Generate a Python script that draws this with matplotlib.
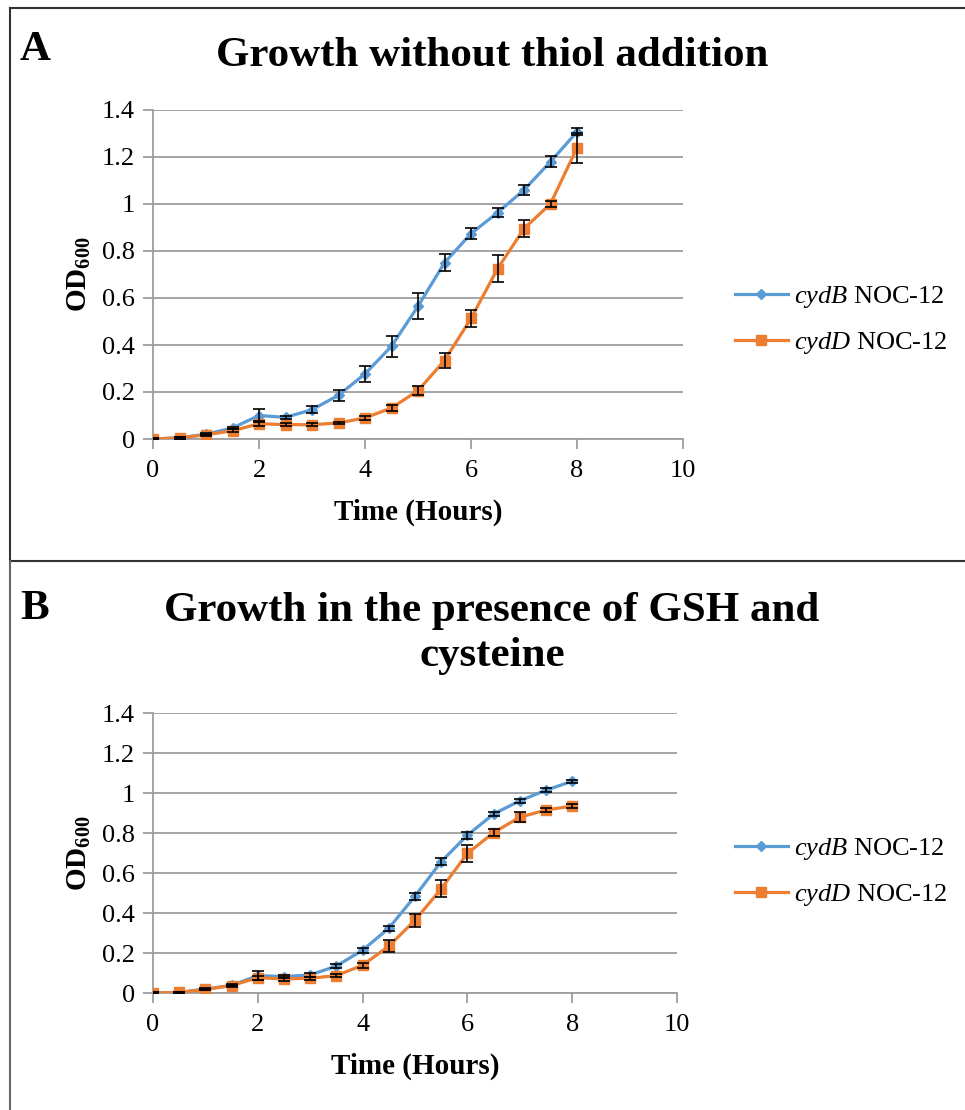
import matplotlib
matplotlib.use("Agg")
import matplotlib.pyplot as plt
from matplotlib.lines import Line2D
from matplotlib.ticker import FuncFormatter

plt.rcParams['font.family'] = ['Liberation Serif', 'DejaVu Serif']
plt.rcParams['mathtext.fontset'] = 'custom'
plt.rcParams['mathtext.rm'] = 'Liberation Serif'
plt.rcParams['mathtext.it'] = 'Liberation Serif:italic'
plt.rcParams['mathtext.bf'] = 'Liberation Serif:bold'

# ---------------- data ----------------
time_h = [0, 0.5, 1, 1.5, 2, 2.5, 3, 3.5, 4, 4.5, 5, 5.5, 6, 6.5, 7, 7.5, 8]

cydB_A = [0, 0.005, 0.02, 0.047, 0.10, 0.092, 0.125, 0.186, 0.277, 0.395,
          0.565, 0.75, 0.874, 0.963, 1.06, 1.18, 1.307]
cydB_A_err = [0.003, 0.003, 0.005, 0.006, 0.028, 0.008, 0.014, 0.023, 0.035, 0.045,
              0.056, 0.036, 0.025, 0.02, 0.021, 0.024, 0.015]
cydD_A = [0, 0.005, 0.018, 0.035, 0.065, 0.061, 0.061, 0.068, 0.09, 0.132,
          0.206, 0.334, 0.513, 0.724, 0.895, 1.001, 1.239]
cydD_A_err = [0.003, 0.003, 0.005, 0.006, 0.01, 0.006, 0.006, 0.006, 0.008, 0.011,
              0.02, 0.03, 0.035, 0.057, 0.035, 0.013, 0.064]

cydB_B = [0, 0.003, 0.02, 0.038, 0.087, 0.082, 0.09, 0.135, 0.214, 0.324,
          0.484, 0.657, 0.789, 0.895, 0.961, 1.014, 1.059]
cydB_B_err = [0.003, 0.003, 0.004, 0.005, 0.023, 0.008, 0.008, 0.01, 0.012, 0.013,
              0.017, 0.017, 0.017, 0.01, 0.01, 0.01, 0.008]
cydD_B = [0, 0.003, 0.018, 0.037, 0.077, 0.07, 0.074, 0.087, 0.139, 0.234,
          0.364, 0.521, 0.698, 0.802, 0.879, 0.915, 0.935]
cydD_B_err = [0.003, 0.003, 0.004, 0.005, 0.01, 0.008, 0.008, 0.008, 0.012, 0.03,
              0.033, 0.043, 0.042, 0.017, 0.025, 0.01, 0.01]

labels = [r'$\mathit{cydB}$ NOC-12', r'$\mathit{cydD}$ NOC-12']
titles = ['Growth without thiol addition', 'Growth in the presence of GSH and\ncysteine']
panel_letters = ['A', 'B']
x_ticks = [0, 2, 4, 6, 8, 10]
y_ticks = [0, 0.2, 0.4, 0.6, 0.8, 1.0, 1.2, 1.4]

BLUE = '#5B9BD5'
ORANGE = '#ED7D31'
GRID = '#9E9E9E'

W, H = 965, 1110
fig = plt.figure(figsize=(W / 100, H / 100), dpi=100)


def fx(px):
    return px / W


def fy(py):
    return 1 - py / H


def make_panel(rect, b, be, d, de, legend_y, title_y, letter_y, letter, title):
    left, top, right, bottom = rect
    ax = fig.add_axes([fx(left), fy(bottom), fx(right - left), (bottom - top) / H])
    ax.plot(time_h, b, color=BLUE, lw=2.3, marker='D', ms=5.5, mec=BLUE, mfc=BLUE,
            label=labels[0], zorder=3)
    ax.plot(time_h, d, color=ORANGE, lw=2.3, marker='s', ms=7.5, mec=ORANGE, mfc=ORANGE,
            label=labels[1], zorder=3)
    ax.errorbar(time_h, b, yerr=be, fmt='none', ecolor='black', elinewidth=1.2,
                capsize=4.5, capthick=1.2, zorder=4)
    ax.errorbar(time_h, d, yerr=de, fmt='none', ecolor='black', elinewidth=1.2,
                capsize=4.5, capthick=1.2, zorder=4)
    ax.set_xlim(0, 10)
    ax.set_ylim(0, 1.4)
    ax.set_xticks(x_ticks)
    ax.set_yticks(y_ticks)
    ax.yaxis.set_major_formatter(FuncFormatter(lambda v, p: '%g' % round(v, 2)))
    ax.grid(axis='y', color=GRID, lw=1.3)
    ax.set_axisbelow(True)
    for s in ['top', 'right']:
        ax.spines[s].set_visible(False)
    for s in ['left', 'bottom']:
        ax.spines[s].set_color(GRID)
        ax.spines[s].set_linewidth(1.3)
    ax.tick_params(axis='both', colors=GRID, labelcolor='black', labelsize=19,
                   length=7, width=1.3, direction='out')
    ax.tick_params(axis='y', pad=6)
    ax.tick_params(axis='x', pad=8)
    ax.set_xlabel('Time (Hours)', fontsize=21, fontweight='bold', labelpad=12)
    ax.set_ylabel(r'$\mathbf{OD}_{\mathbf{600}}$', fontsize=21, labelpad=6)
    ax.legend(loc='center left', bbox_to_anchor=(fx(735), fy(legend_y)),
              bbox_transform=fig.transFigure, frameon=False, fontsize=19,
              handlelength=2.0, handletextpad=0.25, labelspacing=0.75,
              borderpad=0, borderaxespad=0)
    fig.text(fx(492), fy(title_y), title, ha='center', va='top', fontsize=31,
             fontweight='bold', linespacing=1.25)
    fig.text(fx(20), fy(letter_y), letter, ha='left', va='top', fontsize=31,
             fontweight='bold')
    return ax


make_panel((153, 110, 683, 439), cydB_A, cydB_A_err, cydD_A, cydD_A_err,
           legend_y=320, title_y=37, letter_y=31, letter=panel_letters[0], title=titles[0])
make_panel((153, 713, 677, 993), cydB_B, cydB_B_err, cydD_B, cydD_B_err,
           legend_y=872, title_y=592, letter_y=590, letter=panel_letters[1], title=titles[1])

# panel frames
frame_col = '#333333'
fig.add_artist(Line2D([fx(10), 1], [fy(8), fy(8)], color=frame_col, lw=1.5))
fig.add_artist(Line2D([fx(10), fx(10)], [fy(8), fy(561)], color=frame_col, lw=1.5))
fig.add_artist(Line2D([fx(10), 1], [fy(561), fy(561)], color=frame_col, lw=1.5))
fig.add_artist(Line2D([fx(10), fx(10)], [fy(561), 0], color='#666666', lw=1.5))

fig.savefig('out.png', dpi=100, facecolor='white')
